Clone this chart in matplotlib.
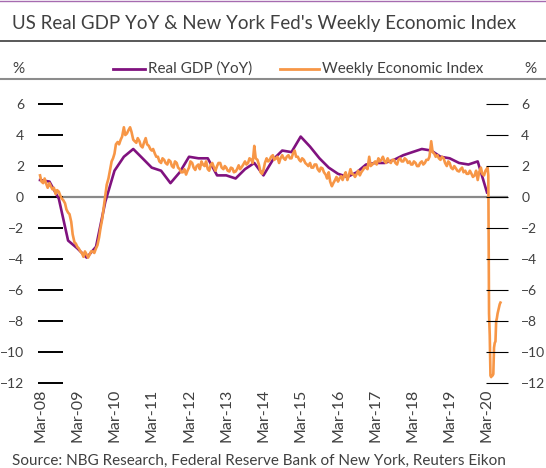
import pandas as pd
import matplotlib
matplotlib.use('Agg')
import matplotlib.pyplot as plt
import matplotlib.dates as mdates
from matplotlib.lines import Line2D

plt.rcParams['font.family'] = ['Lato', 'DejaVu Sans']

# US real GDP, % YoY, quarterly 2008Q1 - 2020Q1
gdp_yoy = [1.1, 1.0, -0.1, -2.8,
           -3.3, -3.9, -3.2, -0.3,
           1.7, 2.6, 3.1, 2.5,
           1.9, 1.7, 0.9, 1.6,
           2.6, 2.5, 2.5, 1.4,
           1.4, 1.2, 1.8, 2.2,
           1.4, 2.4, 3.0, 2.9,
           3.9, 3.25, 2.5, 1.9,
           1.5, 1.3, 1.6, 2.1,
           2.2, 2.2, 2.4, 2.7,
           2.9, 3.1, 3.0, 2.6,
           2.5, 2.2, 2.1, 2.3,
           0.3]

# NY Fed Weekly Economic Index, twice a month, Mar-2008 .. Feb-2020 (one row = Mar..Feb)
wei_semimonthly = [
    1.4, 1.0, 0.9, 1.2, 0.85, 0.6, 0.9, 0.7, 0.5, 0.6, 0.2, 0.45,
    0.35, 0.1, -0.1, -0.2, -0.4, -0.8, -1.0, -1.1, -1.6, -2.4, -2.9, -3.0,
    -3.2, -3.3, -3.5, -3.6, -3.85, -3.5, -3.7, -3.9, -3.7, -3.5, -3.5, -3.6,
    -3.3, -3.1, -2.6, -2.0, -1.4, -0.7, 0.1, 0.8, 1.2, 1.7, 2.3, 2.5,
    2.8, 3.4, 3.55, 3.4, 3.7, 3.9, 4.5, 4.0, 4.1, 4.3, 4.5, 4.2,
    3.7, 3.6, 3.5, 3.8, 3.6, 3.3, 3.2, 3.5, 3.8, 3.4, 3.3, 3.1,
    3.0, 3.1, 2.8, 2.6, 2.6, 2.3, 2.2, 2.5, 2.4, 2.2, 2.1, 2.4,
    2.3, 2.0, 1.9, 2.3, 2.2, 1.9, 1.8, 1.6, 1.6, 1.8, 1.45, 1.7,
    1.9, 2.3, 2.2, 1.9, 1.75, 2.0, 2.1, 1.8, 2.3, 2.1, 2.0, 2.3,
    1.8, 1.7, 2.1, 2.2, 1.9, 1.7, 2.0, 2.2, 2.2, 1.9, 1.8, 2.0,
    1.9, 1.7, 1.65, 1.9, 1.85, 1.6, 1.65, 1.8, 2.05, 1.8, 1.95, 2.1,
    2.3, 2.1, 2.2, 2.5, 2.4, 2.2, 3.3, 2.5, 2.4, 2.1, 1.6, 1.5,
    1.75, 2.2, 2.5, 2.3, 2.4, 2.6, 2.7, 2.4, 2.5, 2.6, 2.2, 2.5,
    2.7, 2.5, 2.4, 2.6, 2.7, 2.5, 2.5, 2.8, 3.0, 2.6, 2.6, 2.4,
    2.3, 2.5, 2.4, 2.2, 2.1, 2.0, 2.2, 1.9, 1.9, 2.1, 2.1, 1.8,
    1.65, 1.9, 1.85, 1.6, 1.45, 1.2, 1.6, 1.0, 0.7, 0.9, 1.1, 1.3,
    1.0, 1.2, 1.35, 1.1, 1.4, 1.6, 1.1, 1.4, 1.8, 1.5, 1.45, 1.3,
    1.5, 1.7, 1.4, 1.6, 1.75, 1.9, 1.9, 1.8, 2.6, 2.0, 2.1, 2.2,
    2.3, 2.1, 2.5, 2.3, 2.4, 2.6, 2.3, 2.2, 2.5, 2.3, 2.2, 2.4,
    2.4, 2.2, 2.1, 2.4, 2.5, 2.3, 2.3, 2.5, 2.4, 2.2, 2.3, 2.1,
    2.1, 2.3, 2.2, 2.0, 2.0, 2.2, 2.3, 2.1, 2.2, 2.4, 2.4, 2.6,
    3.6, 2.9, 2.8, 2.6, 2.7, 2.5, 2.4, 2.6, 2.5, 2.2, 2.0, 2.3,
    2.2, 1.9, 1.8, 2.0, 1.85, 1.7, 1.65, 1.8, 1.9, 1.6, 1.7, 1.5,
    1.5, 1.7, 1.5, 1.3, 1.4, 1.7, 1.1, 1.6, 1.9, 1.5, 1.4, 1.7,
]

# weekly readings from 7 Mar 2020
wei_weekly = [1.9, 1.4, -7.5, -8.9, -11.5, -11.6, -11.5, -11.5, -11.4, -9.7,
              -9.4, -9.3, -8.0, -7.8, -7.5, -7.3, -7.1, -6.9, -6.8]

gdp_dates = pd.date_range('2008-03-01', periods=len(gdp_yoy), freq='3MS')
wei_dates = pd.date_range('2008-03-01', periods=len(wei_semimonthly), freq='SMS').append(
    pd.date_range('2020-03-07', periods=len(wei_weekly), freq='7D'))
wei = wei_semimonthly + wei_weekly

yticks = list(range(-12, 7, 2))
xticks = pd.date_range('2008-03-01', '2020-03-01', freq='12MS')

txt = '#404040'
purple = '#80127f'
orange = '#f79646'

W, H = 546, 468
fig = plt.figure(figsize=(W / 100, H / 100), dpi=100)
ax = fig.add_axes([38 / W, 1 - 383.3 / H, 470 / W, (383.3 - 104) / H])

ax.axhline(0, color='#898989', lw=1.6, zorder=1)
ax.plot(gdp_dates, gdp_yoy, color=purple, lw=1.9, zorder=2)
ax.plot(wei_dates, wei, color=orange, lw=1.9, zorder=3)

ax.set_xlim(pd.Timestamp('2008-02-10'), pd.Timestamp('2020-09-23'))
ax.set_ylim(-12, 6)
ax.set_yticks(yticks)
ax.set_xticks(xticks)
ax.xaxis.set_major_formatter(mdates.DateFormatter('%b-%y'))
ax.tick_params(axis='x', length=0, pad=4, labelsize=11.5, labelcolor=txt, labelrotation=90)
ax.tick_params(axis='y', direction='in', length=18, width=1.4, color='black',
               pad=10, labelsize=10, labelcolor=txt)
for s in ax.spines.values():
    s.set_visible(False)

ax2 = ax.twinx()
ax2.set_ylim(-12, 6)
ax2.set_yticks(yticks)
ax2.tick_params(axis='y', direction='in', length=16, width=0.8, color='black',
                pad=9.5, labelsize=10, labelcolor=txt)
for s in ax2.spines.values():
    s.set_visible(False)

# header: title, rules and legend row
def hline(y, color, lw, x0=0, x1=1):
    fig.add_artist(Line2D([x0, x1], [1 - y / H] * 2, transform=fig.transFigure,
                          color=color, lw=lw))

hline(0.5, '#a66bb0', 1.0)
fig.text(12 / W, 1 - 24 / H, "US Real GDP YoY & New York Fed's Weekly Economic Index",
         ha='left', va='center', fontsize=13.5, color=txt)
hline(41, '#3c3c3c', 1.2)
hline(79, '#8c8c8c', 1.5)

ly = 69
fig.text(12 / W, 1 - ly / H, '%', ha='left', va='center', fontsize=11, color=txt)
fig.text(524 / W, 1 - ly / H, '%', ha='left', va='center', fontsize=11, color=txt)
hline(ly, purple, 2.0, 113 / W, 145 / W)
fig.text(148 / W, 1 - ly / H, 'Real GDP (YoY)', ha='left', va='center', fontsize=11, color=txt)
hline(ly, orange, 2.0, 280 / W, 319 / W)
fig.text(322 / W, 1 - ly / H, 'Weekly Economic Index', ha='left', va='center', fontsize=11, color=txt)

fig.text(12 / W, 1 - 461 / H,
         'Source: NBG Research, Federal Reserve Bank of New York, Reuters Eikon',
         ha='left', va='center', fontsize=11, color=txt)

fig.savefig('out.png', dpi=100)
